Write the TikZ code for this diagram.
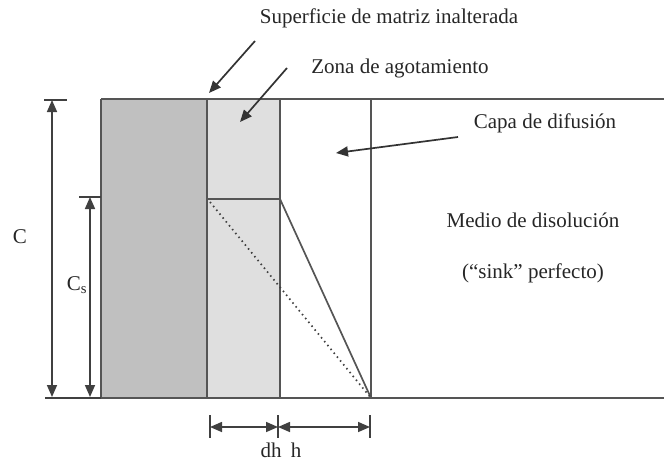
\documentclass[tikz,border=0pt]{standalone}
\usepackage{fontspec}
\setmainfont{Liberation Serif}
\usetikzlibrary{arrows.meta}

\definecolor{matrixgray}{RGB}{192,192,192}
\definecolor{zonegray}{RGB}{223,223,223}
\definecolor{edgegray}{RGB}{85,85,85}

\begin{document}
\begin{tikzpicture}[x=1pt, y=-1pt,
        every node/.style={font=\fontsize{21}{24}\selectfont, text=black!85},
        wall/.style={draw=edgegray, line width=2pt},
        dim/.style={{Triangle[length=12pt,width=10pt]}-{Triangle[length=12pt,width=10pt]}, draw=black!75, line width=1.6pt},
        tick/.style={draw=black!75, line width=1.6pt},
        pointer/.style={-{Triangle[length=12pt,width=10pt]}, draw=black!80, line width=1.7pt}]
    \useasboundingbox (0,0) rectangle (664,461);

    % layers: matrix, depleted zone, diffusion layer, medium
    \coordinate (mTL) at (101,99);
    \coordinate (mBR) at (207,398);
    \coordinate (zTL) at (207,99);
    \coordinate (zBR) at (280,398);
    \coordinate (sL) at (207,199);
    \coordinate (sR) at (280,199);
    \coordinate (dB) at (371,398);
    \coordinate (rT) at (664,99);
    \coordinate (rB) at (664,398);

    \fill[matrixgray] (mTL) rectangle (mBR);
    \fill[zonegray] (zTL) rectangle (zBR);

    \foreach \x in {101,207,280,371}{
        \draw[wall] (\x,99) -- (\x,398);
    }
    \draw[wall] (mTL) -- (rT);
    \draw[wall] (mTL |- rB) -- (rB);
    \draw[wall] (sL) -- (sR);

    % concentration profile
    \draw[edgegray, line width=1.7pt] (sR) -- (dB);
    \draw[black!75, line width=1.7pt, dash pattern=on 1.5pt off 3.5pt] ([shift={(3,3)}]sL) -- (dB);

    % vertical dimensions
    \coordinate (cTop) at (52,100);
    \coordinate (cBot) at (52,397);
    \coordinate (csTop) at (90,197);
    \coordinate (csBot) at (90,397);

    \draw[tick] (44,100) -- (67,100);
    \draw[tick] (79,197) -- (101,197);
    \draw[tick] (45,398) -- (mTL |- rB);
    \draw[dim] (cTop) -- (cBot);
    \draw[dim] (csTop) -- (csBot);

    \node (lblC) at (20,237) {C};
    \node (lblCs) at (77,285) {C\textsubscript{s}};

    % horizontal dimensions
    \foreach \x in {210,278,370}{
        \draw[tick] (\x,415) -- (\x,438);
    }
    \coordinate (dhL) at (210,427);
    \coordinate (dhR) at (278,427);
    \coordinate (hR) at (370,427);
    \draw[dim] (dhL) -- (dhR);
    \draw[dim] (dhR) -- (hR);

    \node[anchor=base, inner sep=1pt] (lbldh) at (271,457) {dh};
    \node[anchor=base, inner sep=1pt] (lblh) at (296,457) {h};

    % labels and pointers
    \node (lblSup) at (389,18) {Superficie de matriz inalterada};
    \node (lblZona) at (400,68) {Zona de agotamiento};
    \node (lblCapa) at (545,123) {Capa de difusión};
    \node (lblMedio) at (533,220) {Medio de disolución};
    \node (lblSink) at (533,273) {(“sink” perfecto)};

    \coordinate (supTail) at (255,41);
    \coordinate (supTip) at (209,93);
    \coordinate (zonaTail) at (287,68);
    \coordinate (zonaTip) at (240,122);
    \coordinate (capaTail) at (458,137);
    \coordinate (capaTip) at (336,153);

    \draw[pointer] (supTail) -- (supTip);
    \draw[pointer] (zonaTail) -- (zonaTip);
    \draw[pointer] (capaTail) -- (capaTip);
\end{tikzpicture}
\end{document}
